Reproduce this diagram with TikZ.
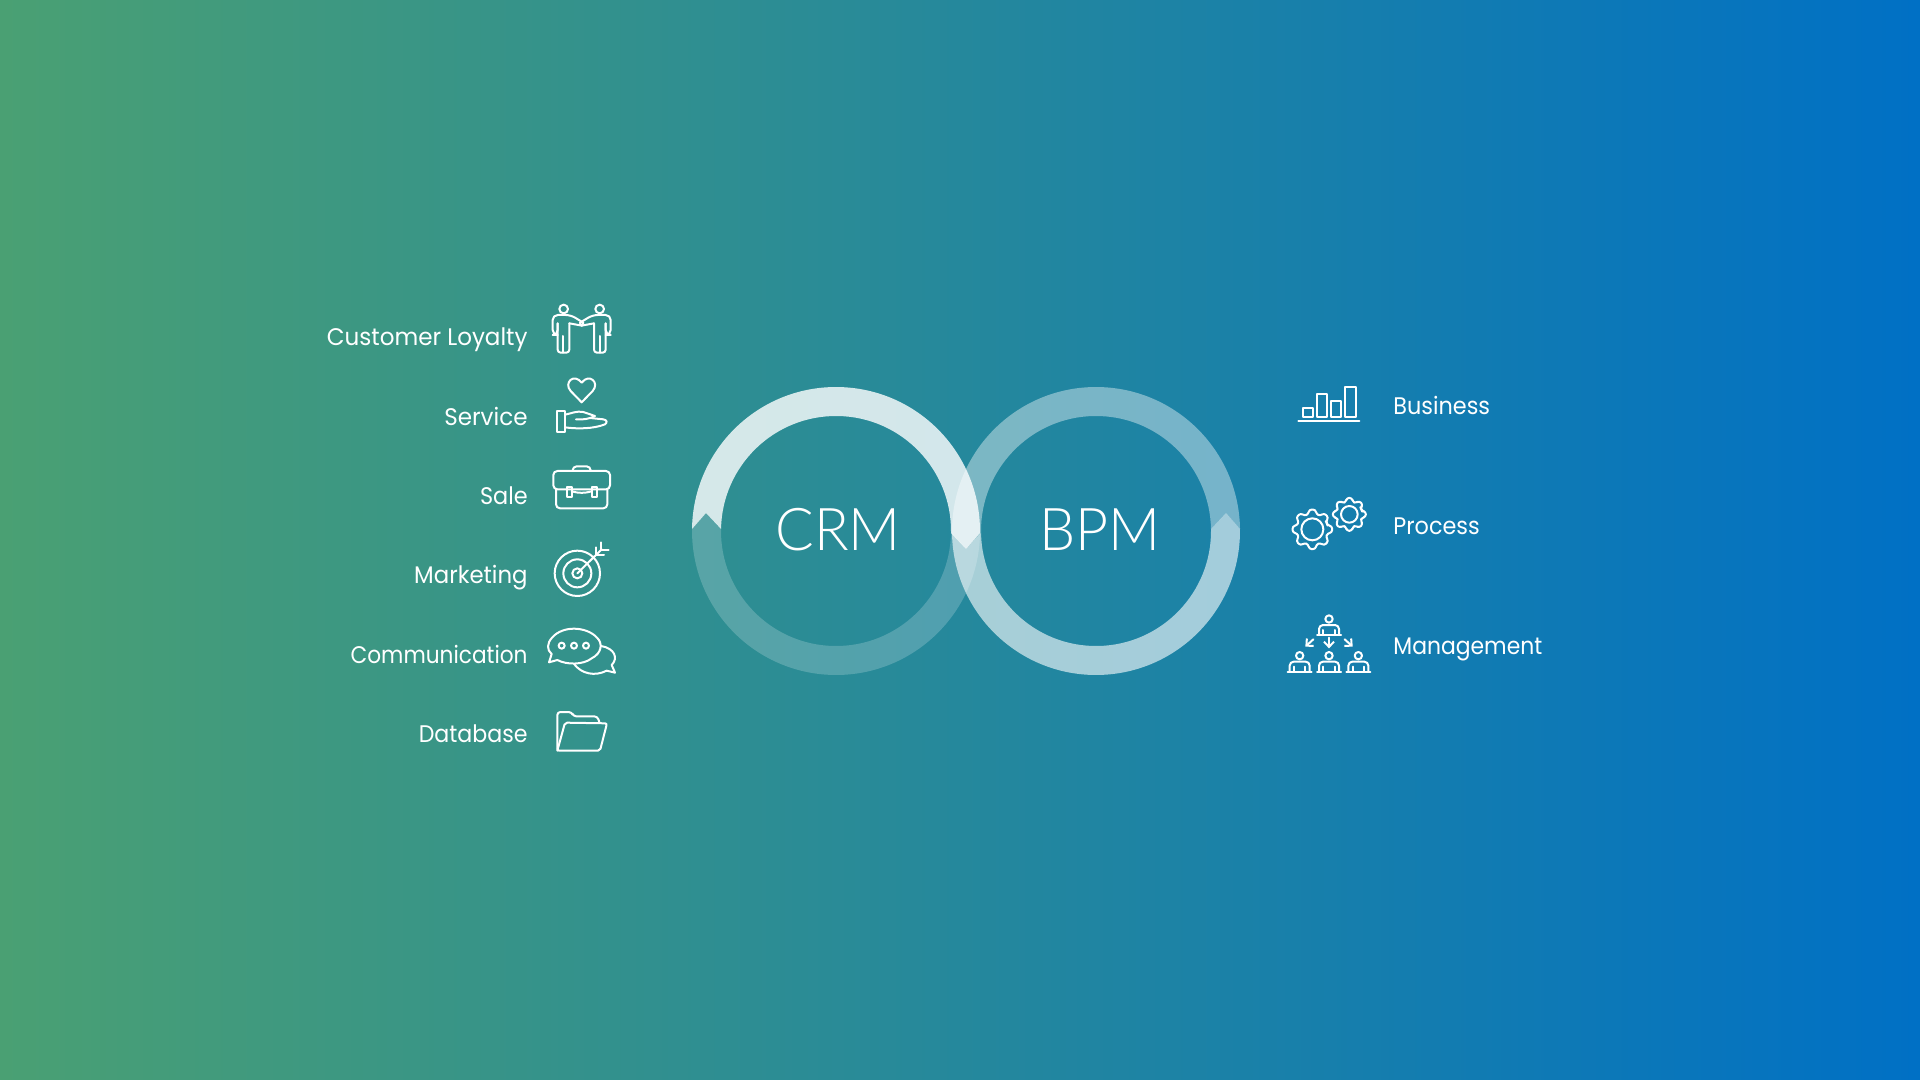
\documentclass[tikz,border=0pt]{standalone}
\usepackage{fontspec}
\setmainfont{Poppins}[FakeStretch=0.96]
\newfontfamily\thinfont{Lato Light}
\usetikzlibrary{arrows.meta}
\definecolor{bgleft}{RGB}{74,160,115}
\definecolor{bgright}{RGB}{0,112,197}
\tikzset{
  labeltext/.style={text=white,font=\fontsize{12}{14}\selectfont,inner sep=0pt},
  titletext/.style={text=white,font=\fontsize{29.5}{32}\thinfont,inner sep=0pt},
  iconline/.style={draw=white,line width=1pt,line join=round,line cap=round},
  arrowline/.style={iconline,-{Straight Barb[length=2.6pt,width=5pt]}}
}
% half of a ring: center x, mirror sign, opacity
\newcommand{\upperhalf}[3]{
  \begin{scope}[shift={(#1,531)},xscale=#2]
    \fill[white,opacity=#3] (-144,-2) arc[start angle=180.8,end angle=360.8,radius=144]
      -- (130,18) -- (115,2) arc[start angle=361,end angle=181,radius=115]
      -- (-130,-18) -- cycle;
  \end{scope}
}
\newcommand{\lowerhalf}[3]{
  \begin{scope}[shift={(#1,531)},xscale=#2]
    \fill[white,opacity=#3] (144,2) arc[start angle=0.8,end angle=180.8,radius=144]
      -- (-130,-18) -- (-115,-2) arc[start angle=181,end angle=1,radius=115]
      -- (130,18) -- cycle;
  \end{scope}
}
\newcommand{\deskperson}[2]{
  \draw[iconline] (#1,#2) circle (11);
  \draw[iconline,rounded corners=2pt] (#1-30,#2+48) -- (#1-30,#2+18) -- (#1+30,#2+18) -- (#1+30,#2+48);
  \draw[iconline] (#1-36,#2+49) -- (#1+36,#2+49);
  \draw[iconline] (#1-17,#2+33) -- (#1-17,#2+48);
  \draw[iconline] (#1+17,#2+33) -- (#1+17,#2+48);
}
\newcommand{\gearicon}[5]{
  \begin{scope}[shift={(#1,#2)}]
    \draw[iconline,rounded corners=1.2pt] (-22.5:#3)
      \foreach \a in {0,45,...,315}{ -- (\a-15:#3) -- (\a-9:#4) -- (\a+9:#4) -- (\a+15:#3) } -- cycle;
    \draw[iconline] (0,0) circle (#5);
  \end{scope}
}
\newcommand{\narrowed}[2]{\scalebox{#1}[1]{#2}}
\begin{document}
\begin{tikzpicture}[x=0.5pt,y=0.5pt,yscale=-1]
  \useasboundingbox (0,0) rectangle (1920,1080);
  \shade[left color=bgleft,right color=bgright] (0,0) rectangle (1920,1080);

  % rings
  \upperhalf{836}{1}{0.8}
  \lowerhalf{836}{1}{0.2}
  \upperhalf{1096}{-1}{0.4}
  \lowerhalf{1096}{-1}{0.6}
  \node[titletext,anchor=base] (crm) at (838,550) {\narrowed{0.97}{CRM}};
  \node[titletext,anchor=base] (bpm) at (1100,550) {\narrowed{0.97}{BPM}};

  % left labels
  \node[labeltext,anchor=base east] (loyalty) at (528,346) {Customer Loyalty};
  \node[labeltext,anchor=base east] (service) at (528,425) {Service};
  \node[labeltext,anchor=base east] (sale) at (528,504) {\narrowed{0.97}{Sale}};
  \node[labeltext,anchor=base east] (marketing) at (528,583) {\narrowed{0.99}{Marketing}};
  \node[labeltext,anchor=base east] (communication) at (528,663) {\narrowed{0.94}{Communication}};
  \node[labeltext,anchor=base east] (database) at (528,742) {\narrowed{0.96}{Database}};

  % right labels
  \node[labeltext,anchor=base west] (business) at (1393,414) {\narrowed{0.97}{Business}};
  \node[labeltext,anchor=base west] (process) at (1393,534) {\narrowed{0.97}{Process}};
  \node[labeltext,anchor=base west] (management) at (1393,654) {\narrowed{0.95}{Management}};

  % upper left icons
  \begin{scope}[shift={(300,280)},scale=1/3]
    % handshake
    \foreach \m/\o in {1/0,-1/1690}{
      \begin{scope}[shift={(\o,0)},xscale=\m]
        \draw[iconline] (791,87) circle (13);
        \draw[iconline,rounded corners=2.5pt] (773,130) -- (773,165) -- (758,165) -- (758,105) -- (812,105) -- (850,128);
        \draw[iconline] (850,128) -- (846,137) -- (808,130);
        \draw[iconline,rounded corners=1.5pt] (808,130) -- (808,218) -- (773,218) -- (773,130);
        \draw[iconline] (790,168) -- (790,218);
      \end{scope}
    }
    % heart and hand
    \draw[iconline] (845,367) -- (812,333) .. controls (790,308) and (822,278) .. (845,308) .. controls (868,278) and (900,308) .. (878,333) -- cycle;
    \draw[iconline] (770,392) rectangle (795,457);
    \draw[iconline] (795,404) .. controls (815,400) and (830,392) .. (850,396) -- (885,408) .. controls (870,416) and (850,420) .. (828,418);
    \draw[iconline] (795,442) .. controls (830,447) and (880,447) .. (915,433) .. controls (922,428) and (922,420) .. (910,418) -- (870,414);
    % briefcase
    \draw[iconline,rounded corners=2pt] (760,573) rectangle (930,628);
    \draw[iconline,rounded corners=2pt] (818,572) -- (818,559) -- (872,559) -- (872,572);
    \draw[iconline,rounded corners=2pt] (768,628) -- (768,685) -- (922,685) -- (922,628);
    \draw[iconline] (800,620) rectangle (815,650);
    \draw[iconline] (875,620) rectangle (890,650);
    \draw[iconline] (815,634) .. controls (835,640) and (855,640) .. (875,634);
  \end{scope}

  % lower left icons
  \begin{scope}[shift={(300,510)},scale=1/3]
    % target
    \draw[iconline] (832,190) circle (68);
    \draw[iconline] (832,190) circle (42);
    \draw[iconline] (832,190) circle (15);
    \draw[iconline] (832,190) -- (905,118);
    \draw[iconline] (888,135) -- (888,112);
    \draw[iconline] (888,135) -- (912,135);
    \draw[iconline] (902,97) -- (902,121) -- (926,121);
    % chat
    \draw[iconline] (747,457) -- (772,450) .. controls (800,465) and (850,465) .. (875,445) .. controls (905,430) and (910,400) .. (890,382) .. controls (860,350) and (790,345) .. (757,382) .. controls (740,400) and (740,420) .. (755,432) -- cycle;
    \draw[iconline] (903,408) .. controls (945,415) and (955,445) .. (935,465) -- (945,488) -- (920,482) .. controls (885,500) and (845,492) .. (822,462);
    \foreach \dx in {785,822,858}{
      \draw[iconline] (\dx,407) circle (9);
    }
    % folder
    \draw[iconline,rounded corners=1.5pt] (772,722) -- (772,606) -- (815,606) -- (820,619) -- (892,619) -- (898,636);
    \draw[iconline,rounded corners=1pt] (772,722) -- (795,638) -- (921,640) -- (900,722) -- cycle;
  \end{scope}

  % right icons
  \begin{scope}[shift={(1270,370)},scale=1/3]
    % bars
    \draw[iconline] (85,153) -- (268,153);
    \draw[iconline] (98,113) rectangle (128,142);
    \draw[iconline] (140,72) rectangle (170,142);
    \draw[iconline] (183,93) rectangle (213,142);
    \draw[iconline] (225,50) rectangle (257,142);
    % gears
    \gearicon{127}{478}{47}{60}{33}
    \gearicon{238}{433}{39}{50}{25}
    % people
    \deskperson{177}{747}
    \deskperson{89}{857}
    \deskperson{177}{857}
    \deskperson{265}{857}
    \draw[arrowline] (177,803) -- (177,835);
    \draw[arrowline] (130,808) -- (106,830);
    \draw[arrowline] (224,808) -- (248,830);
  \end{scope}
\end{tikzpicture}
\end{document}
